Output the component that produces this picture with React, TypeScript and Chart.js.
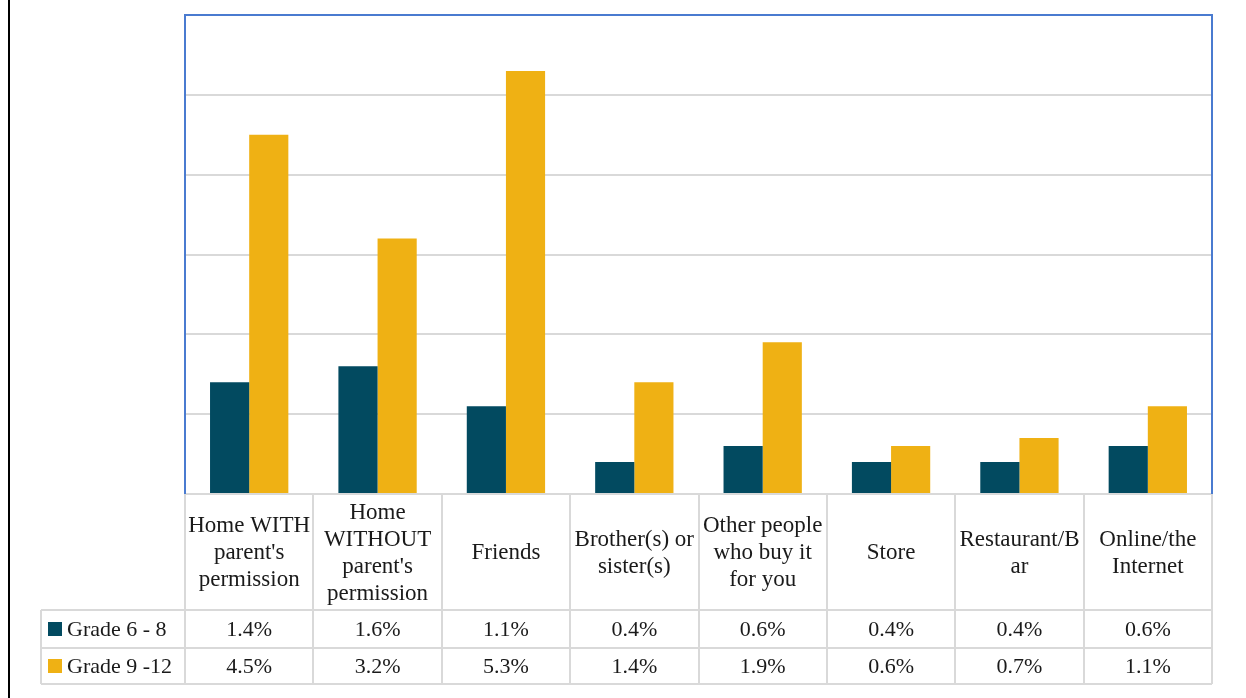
import React, { useEffect, useRef } from "react";
import { Chart, registerables } from "chart.js";

Chart.register(...registerables);

const categories: string[][] = [
  ["Home WITH", "parent's", "permission"],
  ["Home", "WITHOUT", "parent's", "permission"],
  ["Friends"],
  ["Brother(s) or", "sister(s)"],
  ["Other people", "who buy it", "for you"],
  ["Store"],
  ["Restaurant/B", "ar"],
  ["Online/the", "Internet"],
];
const seriesNames = ["Grade 6 - 8", "Grade 9 -12"];
const grade68 = [1.4, 1.6, 1.1, 0.4, 0.6, 0.4, 0.4, 0.6];
const grade912 = [4.5, 3.2, 5.3, 1.4, 1.9, 0.6, 0.7, 1.1];
const colors = ["#024A60", "#EFB114"];

const W = 1246;
const H = 698;
const FONT = "'Liberation Serif', 'DejaVu Serif', serif";

const tablePlugin = {
  id: "dataTable",
  afterDraw(chart: any) {
    const ctx = chart.ctx as CanvasRenderingContext2D;
    const area = chart.chartArea;
    const xs = chart.scales.x;
    const n = categories.length;
    const colW = (area.right - area.left) / n;
    const headTop = area.bottom;
    const headBottom = 610;
    const row1Bottom = 648;
    const row2Bottom = 684;
    const legLeft = 41;
    ctx.save();
    ctx.fillStyle = "#000";
    ctx.fillRect(8, 0, 2, H);

    ctx.strokeStyle = "#d9d9d9";
    ctx.lineWidth = 2;
    ctx.beginPath();
    for (let i = 0; i <= n; i++) {
      const x = Math.round(xs.getPixelForValue(i) - colW / 2);
      ctx.moveTo(x, headTop);
      ctx.lineTo(x, row2Bottom);
    }
    ctx.moveTo(area.left, headTop);
    ctx.lineTo(area.right, headTop);
    [headBottom, row1Bottom, row2Bottom].forEach((y) => {
      ctx.moveTo(legLeft, y);
      ctx.lineTo(area.right, y);
    });
    ctx.moveTo(legLeft, headBottom);
    ctx.lineTo(legLeft, row2Bottom);
    ctx.stroke();

    ctx.strokeStyle = "#4A7BD0";
    ctx.lineWidth = 2;
    ctx.beginPath();
    ctx.moveTo(area.left, area.bottom);
    ctx.lineTo(area.left, area.top);
    ctx.lineTo(area.right, area.top);
    ctx.lineTo(area.right, area.bottom);
    ctx.stroke();

    ctx.fillStyle = "#1a1a1a";
    ctx.font = `23px ${FONT}`;
    ctx.textAlign = "center";
    ctx.textBaseline = "middle";
    const lh = 27;
    const headMid = (headTop + headBottom) / 2;
    categories.forEach((lines, i) => {
      const cx = xs.getPixelForValue(i);
      const start = headMid - ((lines.length - 1) * lh) / 2;
      lines.forEach((ln, k) => ctx.fillText(ln, cx, start + k * lh + 1));
    });

    ctx.font = `22px ${FONT}`;
    const rows = [grade68, grade912];
    const mids = [(headBottom + row1Bottom) / 2, (row1Bottom + row2Bottom) / 2];
    rows.forEach((vals, r) => {
      vals.forEach((v, i) => {
        ctx.fillText(v.toFixed(1) + "%", xs.getPixelForValue(i), mids[r] + 1);
      });
    });

    ctx.textAlign = "left";
    seriesNames.forEach((name, r) => {
      ctx.fillStyle = colors[r];
      ctx.fillRect(48, mids[r] - 7, 14, 14);
      ctx.fillStyle = "#1a1a1a";
      ctx.fillText(name, 67, mids[r] + 1);
    });
    ctx.restore();
  },
};

export default function App() {
  const ref = useRef<HTMLCanvasElement | null>(null);
  useEffect(() => {
    document.body.style.margin = "0";
    if (!ref.current) return;
    const chart = new Chart(ref.current, {
      type: "bar",
      data: {
        labels: categories.map((c) => c.join(" ")),
        datasets: [
          { label: seriesNames[0], data: grade68, backgroundColor: colors[0] },
          { label: seriesNames[1], data: grade912, backgroundColor: colors[1] },
        ],
      },
      options: {
        responsive: false,
        animation: false,
        devicePixelRatio: 1,
        layout: { padding: { left: 185, right: 34, top: 15, bottom: 204 } },
        plugins: { legend: { display: false }, tooltip: { enabled: false } },
        datasets: { bar: { categoryPercentage: 0.61, barPercentage: 1 } },
        scales: {
          x: {
            ticks: { display: false },
            grid: { display: false },
            border: { display: false },
            afterFit: (a: any) => {
              a.height = 0;
            },
          },
          y: {
            min: 0,
            max: 6,
            ticks: { display: false, stepSize: 1 },
            grid: { color: "#d9d9d9", lineWidth: 2, drawTicks: false },
            border: { display: false },
            afterFit: (a: any) => {
              a.width = 0;
            },
          },
        },
      },
      plugins: [tablePlugin],
    });
    return () => chart.destroy();
  }, []);
  return (
    <div style={{ width: W, height: H }}>
      <canvas ref={ref} width={W} height={H} style={{ display: "block" }} />
    </div>
  );
}
